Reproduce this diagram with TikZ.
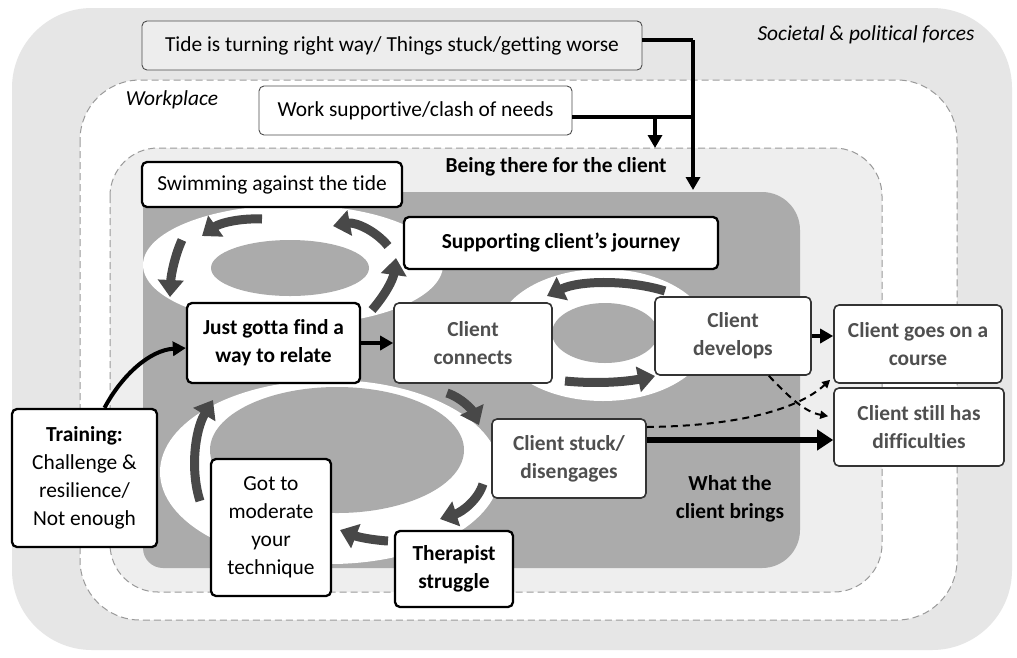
\documentclass[tikz,border=0pt]{standalone}
\usepackage{fontspec}
\setmainfont{Carlito}[Ligatures=NoCommon]
\usetikzlibrary{arrows.meta}
\definecolor{outerbg}{HTML}{E6E6E6}
\definecolor{tidebg}{HTML}{EDEDED}
\definecolor{beingbg}{HTML}{EEEEEE}
\definecolor{darkreg}{HTML}{ABABAB}
\definecolor{cyclegray}{HTML}{484848}
\definecolor{dashgray}{HTML}{9A9A9A}
\definecolor{clienttext}{HTML}{4F4F4F}
\newcommand\myfs{\fontsize{21.4}{28}\selectfont}
\tikzset{
  box/.style={draw, rounded corners=5, fill=white, align=center, inner sep=2pt, font=\myfs},
  thinbox/.style={box, line width=0.9pt, draw=black!70},
  thickbox/.style={box, line width=2.3pt, draw=black},
  clientbox/.style={box, line width=1.6pt, draw=black!80, text=clienttext, font=\myfs\bfseries},
  regionline/.style={dashgray, line width=1pt, dash pattern=on 7pt off 4pt},
  cyclearrow/.style={cyclegray, line width=9pt, -{Triangle[width=25pt,length=17pt]}},
  conn/.style={black, line width=3.5pt, -{Triangle[width=14pt,length=13pt]}},
  dconn/.style={black, line width=2pt, dash pattern=on 7pt off 5pt, -{Triangle[width=8pt,length=8pt]}},
  lbl/.style={font=\myfs, align=center, inner sep=0pt}
}
\begin{document}
\begin{tikzpicture}[x=1pt,y=-1pt]
\useasboundingbox (0,0) rectangle (1017,657);
% regions
\fill[white] (0,0) rectangle (1017,657);
\fill[outerbg, rounded corners=80] (12,8) rectangle (1012,650);
\draw[regionline, fill=white, rounded corners=60] (80,80) rectangle (957,620);
\draw[regionline, fill=beingbg, rounded corners=48] (110,148) rectangle (882,592);
\fill[darkreg] (143,300) [rounded corners=12] -- (143,192) [rounded corners=38] -- (800,192) -- (800,568) [rounded corners=20] -- (143,568) -- cycle;
% rings
\fill[white] (293,265) ellipse [x radius=150, y radius=60];
\fill[darkreg] (290,268) ellipse [x radius=79, y radius=28];
\fill[white] (603,335) ellipse [x radius=107, y radius=66];
\fill[darkreg] (605,333) ellipse [x radius=53, y radius=30];
\fill[white] (330,472) ellipse [x radius=170, y radius=92];
\fill[darkreg] (337,450) ellipse [x radius=127, y radius=63];
% cycle arrows
\draw[cyclearrow] (372,310) .. controls (385,295) and (393,280) .. (396,258);
\draw[cyclearrow] (388,246) .. controls (375,230) and (355,222) .. (333,226);
\draw[cyclearrow] (262,219) .. controls (240,218) and (220,223) .. (202,236);
\draw[cyclearrow] (182,240) .. controls (175,255) and (171,275) .. (170,297);
\draw[cyclearrow] (565,381) .. controls (595,384) and (625,382) .. (655,376);
\draw[cyclearrow] (665,291) .. controls (630,280) and (580,280) .. (547,296);
\draw[cyclearrow] (447,393) .. controls (462,398) and (472,410) .. (479,425);
\draw[cyclearrow] (483,484) .. controls (478,500) and (462,512) .. (440,519);
\draw[cyclearrow] (388,541) .. controls (372,540) and (358,537) .. (340,530);
\draw[cyclearrow] (200,501) .. controls (190,470) and (195,430) .. (213,400);
% labels
\node[lbl, font=\myfs\itshape] (soc) at (866,35) {Societal \& political forces};
\node[lbl, font=\myfs\itshape] (wp) at (172,100) {Workplace};
\node[lbl, font=\myfs\bfseries] (being) at (556,167) {Being there for the client};
\node[lbl, font=\myfs\bfseries] (brings) at (730,499) {What the\\client brings};
% boxes
\node[thinbox, fill=tidebg, minimum width=500, minimum height=49] (tide) at (392,45.5) {Tide is turning right way/ Things stuck/getting worse};
\node[thinbox, minimum width=313, minimum height=49] (work) at (415.5,110.5) {Work supportive/clash of needs};
\node[thickbox, minimum width=260, minimum height=45] (swim) at (272,184.5) {Swimming against the tide};
\node[thickbox, font=\myfs\bfseries, minimum width=314, minimum height=52] (supp) at (561,243) {Supporting client’s journey};
\node[thickbox, font=\myfs\bfseries, minimum width=173, minimum height=80] (just) at (273.5,343) {Just gotta find a\\way to relate};
\node[clientbox, minimum width=158, minimum height=80] (conn) at (473,343) {Client\\connects};
\node[clientbox, minimum width=156, minimum height=78] (dev) at (733,336) {Client\\develops};
\node[clientbox, minimum width=168, minimum height=78] (course) at (918,344) {Client goes on a\\course};
\node[clientbox, minimum width=170, minimum height=78] (diff) at (919,427) {Client still has\\difficulties};
\node[clientbox, minimum width=154, minimum height=79] (stuck) at (569,458.5) {Client stuck/\\disengages};
\node[thickbox, minimum width=145, minimum height=138] (train) at (84.5,478) {\textbf{Training:}\\Challenge \&\\resilience/\\Not enough};
\node[thickbox, minimum width=120, minimum height=137] (got) at (271,527.5) {Got to\\moderate\\your\\technique};
\node[thickbox, font=\myfs\bfseries, minimum width=118, minimum height=76] (ther) at (454,569) {Therapist\\struggle};
% connectors
\coordinate (tidecorner) at (693,40);
\coordinate (tideend) at (693,190);
\coordinate (workjoin) at (693,117);
\coordinate (workbranch) at (655,117);
\coordinate (workend) at (655,148);
\draw[black, line width=3.5pt] (tide.east |- tidecorner) -- (tidecorner);
\draw[conn] (tidecorner) -- (tideend);
\draw[black, line width=3.5pt] (work.east |- workjoin) -- (workjoin);
\draw[conn] (workbranch) -- (workend);
\draw[conn, line width=4pt] (train.north) ++(20,0) .. controls (122,375) and (150,350) .. ([yshift=-5pt]just.west);
\draw[conn] (just) -- (conn);
\draw[conn] (dev.east) -- (course.west |- dev.east);
\draw[conn, line width=6.5pt, -{Triangle[width=20pt,length=16pt]}] (stuck.east |- 0,440) -- (diff.west |- 0,440);
\draw[dconn] (stuck.east |- 0,427) .. controls (730,426) and (795,412) .. ([xshift=-3pt,yshift=4pt]course.south west);
\draw[dconn] ([xshift=-43pt]dev.south east) .. controls (790,398) and (805,412) .. ([xshift=-5pt,yshift=-29pt]diff.north west);
\end{tikzpicture}
\end{document}
